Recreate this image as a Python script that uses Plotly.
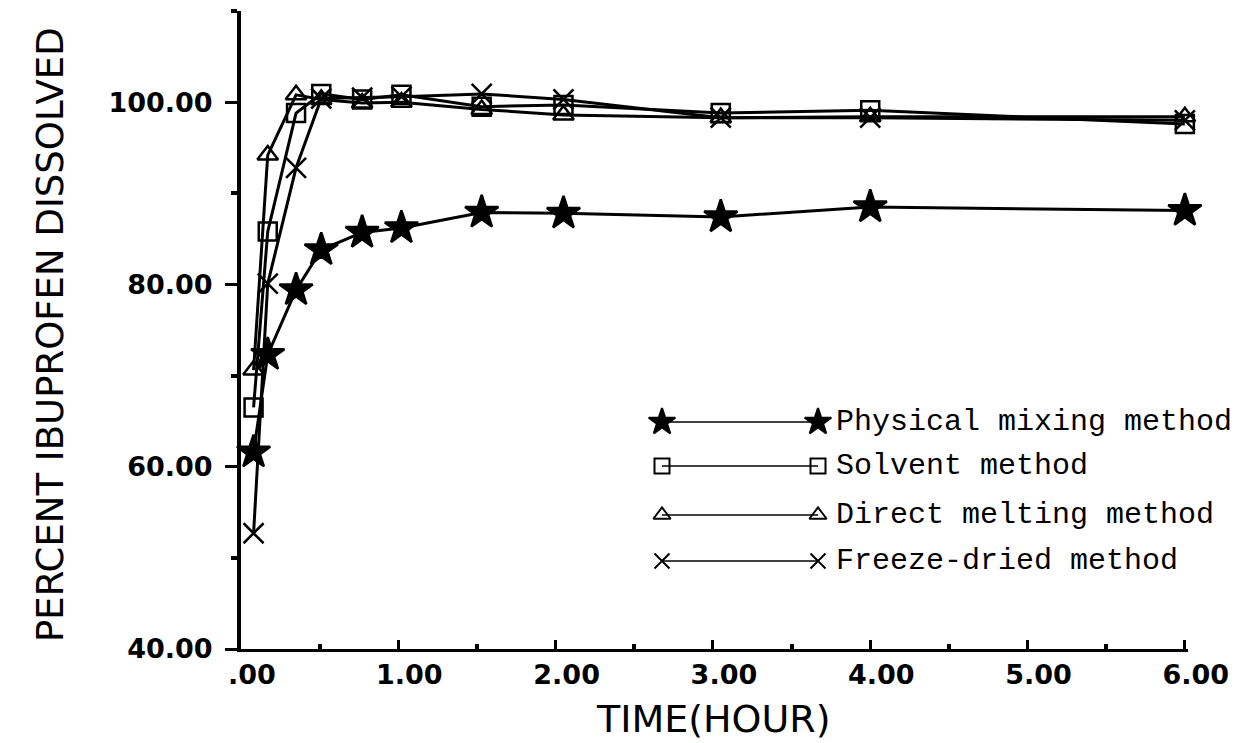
import plotly.graph_objects as go

# ---- data ----
time_h = [0.08, 0.17, 0.35, 0.51, 0.77, 1.02, 1.53, 2.05, 3.05, 4.0, 6.0]
physical_mixing = [61.6, 72.3, 79.4, 83.8, 85.7, 86.2, 87.9, 87.8, 87.4, 88.5, 88.1]
solvent = [66.5, 85.8, 98.8, 100.9, 100.3, 100.8, 99.5, 99.7, 98.8, 99.1, 97.6]
direct_melting = [70.6, 94.2, 100.8, 100.3, 99.9, 100.0, 99.2, 98.6, 98.3, 98.4, 98.4]
freeze_dried = [52.7, 80.1, 92.8, 100.4, 100.5, 100.6, 100.9, 100.3, 98.3, 98.3, 98.0]

series_names = ["Physical mixing method", "Solvent method",
                "Direct melting method", "Freeze-dried method"]
series_values = [physical_mixing, solvent, direct_melting, freeze_dried]

x_tickvals = [0, 1, 2, 3, 4, 5, 6]
x_ticktext = [".00", "1.00", "2.00", "3.00", "4.00", "5.00", "6.00"]
y_tickvals = [40, 60, 80, 100]
y_ticktext = ["40.00", "60.00", "80.00", "100.00"]

# ---- layout geometry (page has an 8px body margin) ----
OFF = 8
W, H = 1246 - OFF, 743 - OFF
L, T = 241 - OFF, 11 - OFF
R = W - (1188 - OFF)
B = H - (649 - OFF)
pw, ph = W - L - R, H - T - B

def pxx(x):
    return (x - OFF - L) / pw

def pxy(y):
    return (H - B - (y - OFF)) / ph

symbols = ["star", "square-open", "triangle-up-open", "x-thin-open"]
sizes = [25, 18, 18, 20]
leg_sizes = [20, 15, 15, 15]

fig = go.Figure()
for name, vals, sym, sz in zip(series_names, series_values, symbols, sizes):
    fig.add_trace(go.Scatter(
        x=time_h, y=vals, mode="lines+markers", name=name,
        line=dict(color="black", width=3),
        marker=dict(symbol=sym, size=sz, color="black",
                    line=dict(color="black", width=2.5)),
        cliponaxis=False, showlegend=False,
    ))

# custom legend drawn on a pixel-based overlay axis
leg_x0, leg_x1, leg_text_x = 662, 818, 834
leg_rows = [422, 466, 515, 561]
for name, sym, sz, yy in zip(series_names, symbols, leg_sizes, leg_rows):
    fig.add_trace(go.Scatter(
        x=[leg_x0, leg_x1], y=[yy, yy], mode="lines+markers",
        xaxis="x2", yaxis="y2",
        line=dict(color="black", width=1.5),
        marker=dict(symbol=sym, size=sz, color="black",
                    line=dict(color="black", width=2)),
        cliponaxis=False, showlegend=False, hoverinfo="skip",
    ))
    fig.add_annotation(x=leg_text_x, y=yy, xref="x2", yref="y2", text=name,
                       showarrow=False, xanchor="left", yanchor="middle",
                       font=dict(family="Liberation Mono", size=30, color="black"))

tickfont = dict(family="DejaVu Sans", size=27, color="black", weight="bold")
minor_x = [0.5, 1.5, 2.5, 3.5, 4.5, 5.5]
minor_y = [50, 70, 90, 110]

fig.update_layout(
    width=W, height=H,
    margin=dict(l=L, r=R, t=T, b=B),
    paper_bgcolor="white", plot_bgcolor="white",
    showlegend=False,
    xaxis=dict(range=[0, 6.02], tickvals=x_tickvals, ticktext=x_ticktext,
               showgrid=False, zeroline=False, showline=True, linewidth=3,
               linecolor="black", ticks="inside", ticklen=9, tickwidth=3,
               tickcolor="black", tickfont=tickfont, ticklabelshift=11,
               minor=dict(tickvals=minor_x, ticks="inside",
                          ticklen=5, tickwidth=4, tickcolor="black")),
    yaxis=dict(range=[40, 110], tickvals=y_tickvals, ticktext=y_ticktext,
               showgrid=False, zeroline=False, showline=True, linewidth=4,
               linecolor="black", ticks="outside", ticklen=12, tickwidth=3,
               tickcolor="black", tickfont=tickfont, ticklabelstandoff=7,
               minor=dict(tickvals=minor_y, ticks="outside",
                          ticklen=6, tickwidth=4, tickcolor="black")),
    xaxis3=dict(overlaying="x", anchor="y", range=[0, 6.02], tickvals=x_tickvals,
                showticklabels=False, showgrid=False, zeroline=False, showline=False,
                ticks="outside", ticklen=9, tickwidth=3, tickcolor="black",
                minor=dict(tickvals=minor_x, ticks="outside",
                           ticklen=5, tickwidth=4, tickcolor="black")),
    yaxis3=dict(overlaying="y", anchor="x", range=[40, 110], tickvals=y_tickvals,
                showticklabels=False, showgrid=False, zeroline=False, showline=False,
                ticks="inside", ticklen=12, tickwidth=3, tickcolor="black",
                minor=dict(tickvals=minor_y, ticks="inside",
                           ticklen=6, tickwidth=4, tickcolor="black")),
    xaxis2=dict(overlaying="x", anchor="y2", range=[241, 1188], visible=False),
    yaxis2=dict(overlaying="y", anchor="x2", range=[649, 11], visible=False),
)

# axis titles
fig.add_annotation(x=pxx(713), y=pxy(719), xref="paper", yref="paper",
                   text="TIME(HOUR)", showarrow=False, xanchor="center", yanchor="middle",
                   font=dict(family="DejaVu Sans", size=38, color="black"))
fig.add_annotation(x=pxx(50), y=pxy(335), xref="paper", yref="paper",
                   text="PERCENT IBUPROFEN DISSOLVED", showarrow=False, textangle=-90,
                   xanchor="center", yanchor="middle",
                   font=dict(family="DejaVu Sans", size=37, color="black"))

fig.write_html("out.html")
